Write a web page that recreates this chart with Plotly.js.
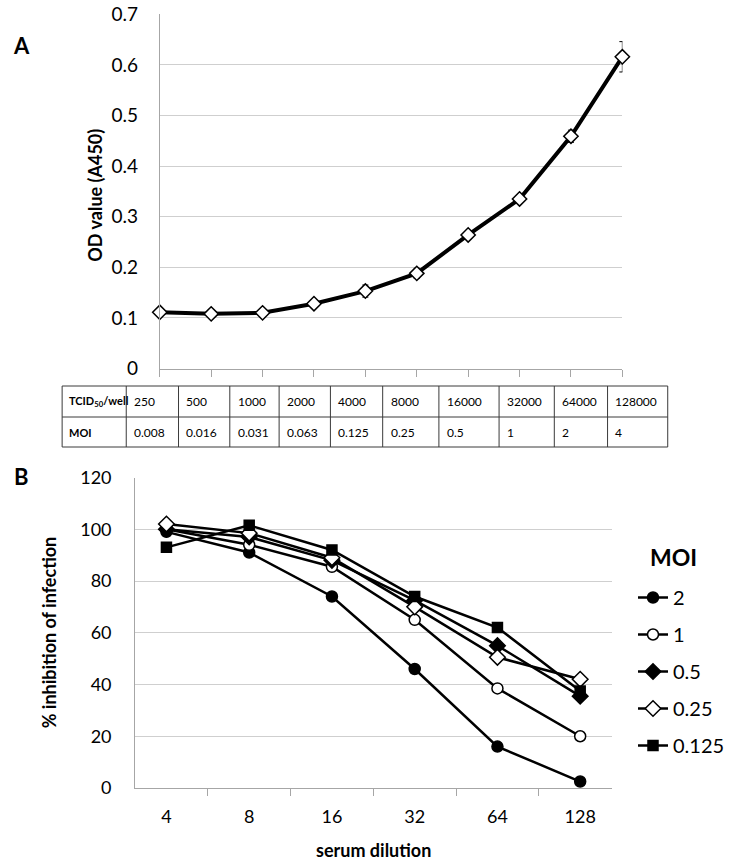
<!DOCTYPE html>
<html>
<head>
<meta charset="utf-8">
<script src="https://cdn.plot.ly/plotly-3.0.1.min.js"></script>
<style>
  html, body { margin: 0; padding: 0; background: #fff; }
  #chart { width: 730px; height: 863px; }
</style>
</head>
<body>
<div id="chart"></div>
<script>
// Panel A: OD450 signal against virus input per well
const tcidPerWell = ['250', '500', '1000', '2000', '4000', '8000', '16000', '32000', '64000', '128000'];
const moiPerWell = ['0.008', '0.016', '0.031', '0.063', '0.125', '0.25', '0.5', '1', '2', '4'];
const odValues = [0.111, 0.108, 0.110, 0.128, 0.153, 0.188, 0.264, 0.335, 0.459, 0.616];
const odErrors = [0.004, 0.004, 0.004, 0.005, 0.012, 0.010, 0.007, 0.007, 0.012, 0.030];

// Panel B: % inhibition against serum dilution, one series per MOI
const serumDilutions = ['4', '8', '16', '32', '64', '128'];
const moiLabels = ['2', '1', '0.5', '0.25', '0.125'];
const inhibitionMoi2 = [99, 91, 74, 46, 16, 2.5];
const inhibitionMoi1 = [100, 94, 85.5, 65, 38.5, 20];
const inhibitionMoi05 = [100, 97, 88, 72.5, 55, 35.5];
const inhibitionMoi025 = [102, 98.5, 89, 70, 50.5, 42];
const inhibitionMoi0125 = [93, 101.5, 92, 74, 62, 37.5];

const W = 730, H = 863;
const px = x => x / W;
const py = y => 1 - y / H;
const FONT = 'Lato, "Open Sans", sans-serif';
const AXIS_GREY = '#a6a6a6';
const GRID_GREY = '#cfcfcf';

const odIndex = tcidPerWell.map((_, i) => i);

const traces = [];

traces.push({
  x: odIndex, y: odValues,
  xaxis: 'x', yaxis: 'y',
  type: 'scatter', mode: 'lines+markers',
  line: { color: '#000', width: 4 },
  marker: { symbol: 'diamond', size: 11, color: '#fff', line: { color: '#000', width: 1.5 } },
  error_y: { type: 'data', array: odErrors, visible: true, color: '#000', thickness: 1, width: 3 },
  cliponaxis: false,
  showlegend: false,
  hoverinfo: 'skip'
});

const seriesB = [
  { name: moiLabels[0], y: inhibitionMoi2, symbol: 'circle', fill: '#000', size: 11 },
  { name: moiLabels[1], y: inhibitionMoi1, symbol: 'circle', fill: '#fff', size: 11 },
  { name: moiLabels[2], y: inhibitionMoi05, symbol: 'diamond', fill: '#000', size: 12 },
  { name: moiLabels[3], y: inhibitionMoi025, symbol: 'diamond', fill: '#fff', size: 12 },
  { name: moiLabels[4], y: inhibitionMoi0125, symbol: 'square', fill: '#000', size: 10 }
];

seriesB.forEach((s, i) => {
  traces.push({
    x: serumDilutions, y: s.y, name: s.name,
    xaxis: 'x2', yaxis: 'y2',
    type: 'scatter', mode: 'lines+markers',
    line: { color: '#000', width: 2.5 },
    marker: { symbol: s.symbol, size: s.size, color: s.fill, line: { color: '#000', width: 1.5 } },
    legendgroup: 'g' + i,
    cliponaxis: false,
    hoverinfo: 'skip'
  });
});

// Table under panel A: column edges and row edges in pixels
const tableLeft = 63;
const colEdges = [128, 181, 233, 283, 335, 388, 445, 506, 562, 616, 677];
const rowEdges = [386, 417, 447];

const shapes = [];
const lineStyle = { color: '#3a3a3a', width: 1 };
rowEdges.forEach(y => shapes.push({
  type: 'line', xref: 'paper', yref: 'paper',
  x0: px(tableLeft), x1: px(colEdges[colEdges.length - 1]), y0: py(y), y1: py(y), line: lineStyle
}));
[tableLeft].concat(colEdges).forEach(x => shapes.push({
  type: 'line', xref: 'paper', yref: 'paper',
  x0: px(x), x1: px(x), y0: py(rowEdges[0]), y1: py(rowEdges[2]), line: lineStyle
}));

const annotations = [];
const note = (x, y, text, size, extra) => annotations.push(Object.assign({
  xref: 'paper', yref: 'paper', x: px(x), y: py(y),
  xanchor: 'center', yanchor: 'middle', showarrow: false,
  text: text, font: { size: size, family: FONT, color: '#000' }
}, extra || {}));

const rowMid = [(rowEdges[0] + rowEdges[1]) / 2, (rowEdges[1] + rowEdges[2]) / 2];
note(tableLeft + 5, rowMid[0], '<b>TCID<sub>50</sub>/well</b>', 11, { xanchor: 'left' });
note(tableLeft + 5, rowMid[1], '<b>MOI</b>', 11, { xanchor: 'left' });
tcidPerWell.forEach((t, i) => {
  note(colEdges[i] + 6, rowMid[0], t, 12, { xanchor: 'left' });
  note(colEdges[i] + 6, rowMid[1], moiPerWell[i], 12, { xanchor: 'left' });
});

// Panel letters, axis titles and the legend heading
note(22, 45, '<b>A</b>', 22);
note(22, 476, '<b>B</b>', 22);
note(96, 195, '<b>OD value (A450)</b>', 18, { textangle: -90 });
note(50, 632, '<b>% inhibition of infection</b>', 18, { textangle: -90 });
note(378.5, 850, '<b>serum dilution</b>', 18);
note(683, 557, '<b>MOI</b>', 23);

const layout = {
  width: W, height: H,
  margin: { l: 0, r: 0, t: 0, b: 0 },
  paper_bgcolor: '#fff', plot_bgcolor: '#fff',
  font: { family: FONT, color: '#000', size: 17 },
  xaxis: {
    domain: [px(162), px(631)], range: [0, 9], anchor: 'y',
    tickvals: odIndex, showticklabels: false,
    ticks: 'outside', ticklen: 7, tickcolor: AXIS_GREY, tickwidth: 1,
    showgrid: false, zeroline: false, showline: true, linecolor: AXIS_GREY, linewidth: 1,
    fixedrange: true
  },
  yaxis: {
    domain: [py(368.5), py(14.3)], range: [0, 0.7], dtick: 0.1, anchor: 'x',
    showgrid: true, gridcolor: GRID_GREY, gridwidth: 1,
    showline: true, linecolor: AXIS_GREY, linewidth: 1, zeroline: false,
    ticks: '', ticklabelstandoff: 17, tickfont: { size: 19 },
    fixedrange: true
  },
  xaxis2: {
    domain: [px(137), px(620)], anchor: 'y2', type: 'category',
    categoryorder: 'array', categoryarray: serumDilutions,
    tickson: 'boundaries', ticks: 'outside', ticklen: 7, tickcolor: AXIS_GREY,
    showgrid: false, zeroline: false, showline: true, linecolor: AXIS_GREY,
    ticklabelstandoff: 12, tickfont: { size: 18 },
    fixedrange: true
  },
  yaxis2: {
    domain: [py(788), py(477.5)], range: [0, 120], dtick: 20, anchor: 'x2',
    showgrid: true, gridcolor: GRID_GREY, gridwidth: 1,
    showline: true, linecolor: AXIS_GREY, zeroline: false,
    ticks: '', ticklabelstandoff: 19, tickfont: { size: 18 },
    fixedrange: true
  },
  showlegend: true,
  legend: {
    x: px(642), xanchor: 'left', y: py(578), yanchor: 'top',
    bgcolor: 'rgba(0,0,0,0)', borderwidth: 0,
    font: { size: 20, family: FONT },
    traceorder: 'grouped', tracegroupgap: 8, itemwidth: 30
  },
  shapes: shapes,
  annotations: annotations
};

Plotly.newPlot('chart', traces, layout, { staticPlot: true, displayModeBar: false });
</script>
</body>
</html>
